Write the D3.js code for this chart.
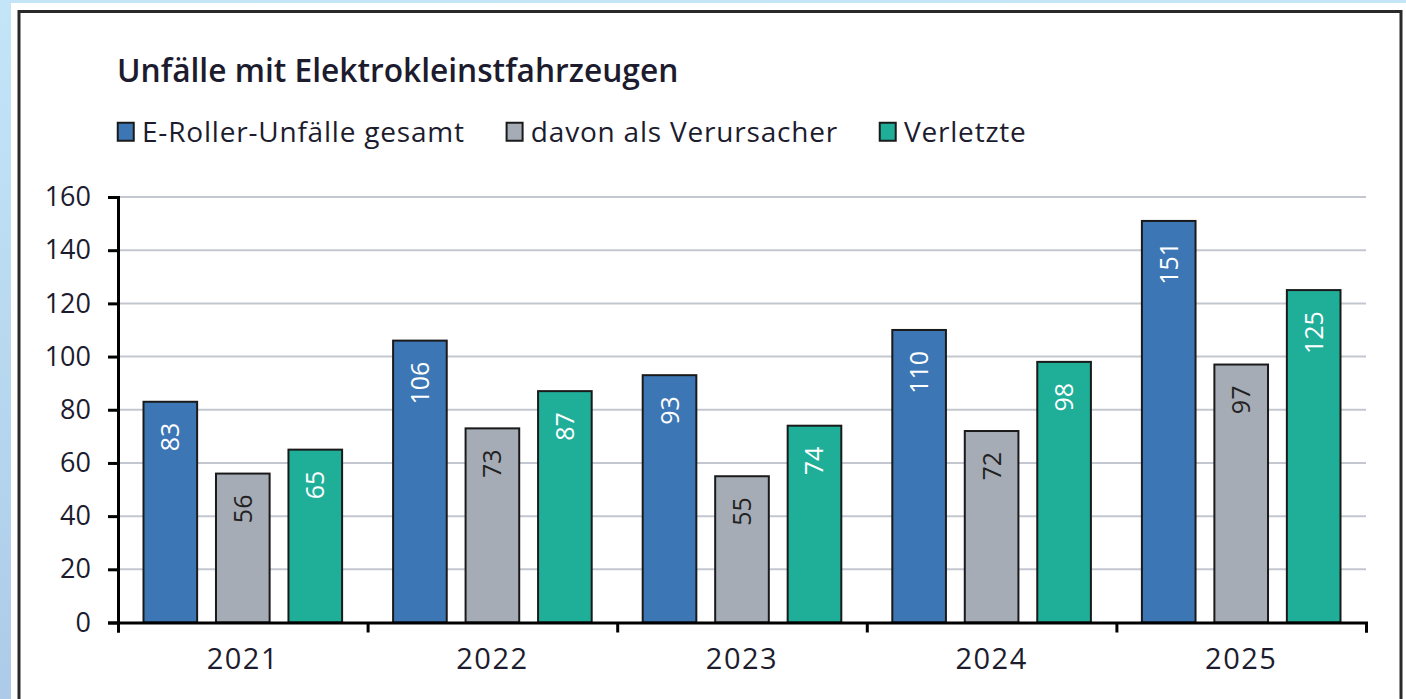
<!DOCTYPE html>
<html>
<head>
<meta charset="utf-8">
<script src="https://cdn.jsdelivr.net/npm/d3@7"></script>
<style>
  html, body { margin: 0; padding: 0; background: #fff; }
  svg { display: block; }
  text { font-family: "Open Sans", Lato, sans-serif; fill: #1c1c2e; }
</style>
</head>
<body>
<div id="chart"></div>
<script>
const width = 1406;
const height = 699;

// data
const years = ["2021", "2022", "2023", "2024", "2025"];
const seriesNames = ["E-Roller-Unfälle gesamt", "davon als Verursacher", "Verletzte"];
const gesamt = [83, 106, 93, 110, 151];
const verursacher = [56, 73, 55, 72, 97];
const verletzte = [65, 87, 74, 98, 125];
const yTicks = [0, 20, 40, 60, 80, 100, 120, 140, 160];

const colors = ["#3c76b5", "#a6acb5", "#1fae98"];
const labelColors = ["#ffffff", "#222222", "#ffffff"];

const series = [gesamt, verursacher, verletzte];

const rows = years.map((yr, i) => ({
    year: yr,
    values: series.map((s, j) => ({ key: j, value: s[i] }))
}));

const svg = d3.select("#chart")
    .append("svg")
    .attr("width", width)
    .attr("height", height);

// page background / frame
const defs = svg.append("defs");
const grad = defs.append("linearGradient")
    .attr("id", "bg")
    .attr("x1", 0).attr("y1", 0).attr("x2", 0).attr("y2", 1);
grad.append("stop").attr("offset", "0%").attr("stop-color", "#c4e5f8");
grad.append("stop").attr("offset", "100%").attr("stop-color", "#adcbe8");

svg.append("rect")
    .attr("width", width).attr("height", height)
    .attr("fill", "url(#bg)");
svg.append("rect")
    .attr("x", 11).attr("y", 3)
    .attr("width", width - 11).attr("height", height)
    .attr("fill", "#fff");
svg.append("rect")
    .attr("x", 19).attr("y", 11.5)
    .attr("width", 1382).attr("height", height + 20)
    .attr("fill", "none")
    .attr("stroke", "#2a2a2a")
    .attr("stroke-width", 3);

const margin = { left: 118, right: 40, top: 197, bottom: 76.5 };
const innerW = width - margin.left - margin.right;
const innerH = height - margin.top - margin.bottom;

const g = svg.append("g")
    .attr("transform", `translate(${margin.left},${margin.top})`);

const x0 = d3.scaleBand()
    .domain(years)
    .range([0, innerW])
    .padding(0);

const x1 = d3.scaleBand()
    .domain([0, 1, 2])
    .range([25.5, x0.bandwidth() - 25.5])
    .paddingInner(0.26);

const y = d3.scaleLinear()
    .domain([0, 160])
    .range([innerH, 0]);

// gridlines
g.append("g")
    .selectAll("line")
    .data(yTicks.filter(d => d > 0))
    .enter()
    .append("line")
    .attr("x1", 0)
    .attr("x2", innerW)
    .attr("y1", d => y(d))
    .attr("y2", d => y(d))
    .attr("stroke", "#c3c8d0")
    .attr("stroke-width", 2);

// bars
const groups = g.selectAll(".grp")
    .data(rows)
    .enter()
    .append("g")
    .attr("class", "grp")
    .attr("transform", d => `translate(${x0(d.year)},0)`);

groups.selectAll("rect")
    .data(d => d.values)
    .enter()
    .append("rect")
    .attr("x", d => x1(d.key))
    .attr("y", d => y(d.value))
    .attr("width", x1.bandwidth())
    .attr("height", d => innerH - y(d.value))
    .attr("fill", d => colors[d.key])
    .attr("stroke", "#1a1a1a")
    .attr("stroke-width", 2);

groups.selectAll("text")
    .data(d => d.values)
    .enter()
    .append("text")
    .attr("transform", d => `translate(${x1(d.key) + x1.bandwidth() / 2},${y(d.value) + 21}) rotate(-90)`)
    .attr("text-anchor", "end")
    .attr("dy", "0.36em")
    .style("font-size", "25px")
    .style("fill", d => labelColors[d.key])
    .text(d => d.value);

// y axis
const yAxis = g.append("g")
    .call(d3.axisLeft(y).tickValues(yTicks).tickSize(10).tickPadding(17));
yAxis.select(".domain").attr("stroke", "#000").attr("stroke-width", 3);
yAxis.selectAll(".tick line").attr("stroke", "#000").attr("stroke-width", 3);
yAxis.selectAll(".tick text")
    .style("font-size", "27px")
    .style("font-family", "'Open Sans', sans-serif")
    .attr("fill", "#1c1c2e");

// x axis: ticks at category boundaries, labels at centers
const xEdge = d3.scaleLinear().domain([0, years.length]).range([0, innerW]);
const xAxisTicks = g.append("g")
    .attr("transform", `translate(0,${innerH})`)
    .call(d3.axisBottom(xEdge).tickValues(d3.range(years.length + 1)).tickSize(10).tickFormat(""));
xAxisTicks.select(".domain").attr("stroke", "#000").attr("stroke-width", 3);
xAxisTicks.selectAll(".tick line").attr("stroke", "#000").attr("stroke-width", 3);

const xAxisLabels = g.append("g")
    .attr("transform", `translate(0,${innerH})`)
    .call(d3.axisBottom(x0).tickSize(0).tickPadding(26));
xAxisLabels.select(".domain").remove();
xAxisLabels.selectAll(".tick text")
    .style("font-size", "29px")
    .style("letter-spacing", "1.5px")
    .style("font-family", "'Open Sans', sans-serif")
    .attr("fill", "#1c1c2e");

// title
svg.append("text")
    .attr("x", 117)
    .attr("y", 82)
    .style("font-size", "31.7px")
    .style("font-weight", "600")
    .text("Unfälle mit Elektrokleinstfahrzeugen");

// legend
const legend = svg.append("g").attr("transform", "translate(117,122)");
let lx = 0;
seriesNames.forEach((name, i) => {
    const item = legend.append("g").attr("transform", `translate(${lx},0)`);
    item.append("rect")
        .attr("x", 0.75).attr("y", 0.75)
        .attr("width", 16).attr("height", 18)
        .attr("fill", colors[i])
        .attr("stroke", "#1a1a1a")
        .attr("stroke-width", 2);
    const t = item.append("text")
        .attr("x", 25)
        .attr("y", 10)
        .attr("dy", "0.36em")
        .style("font-size", "28px")
        .style("letter-spacing", "0.8px")
        .text(name);
    lx += 25 + t.node().getComputedTextLength() + 41;
});
</script>
</body>
</html>
